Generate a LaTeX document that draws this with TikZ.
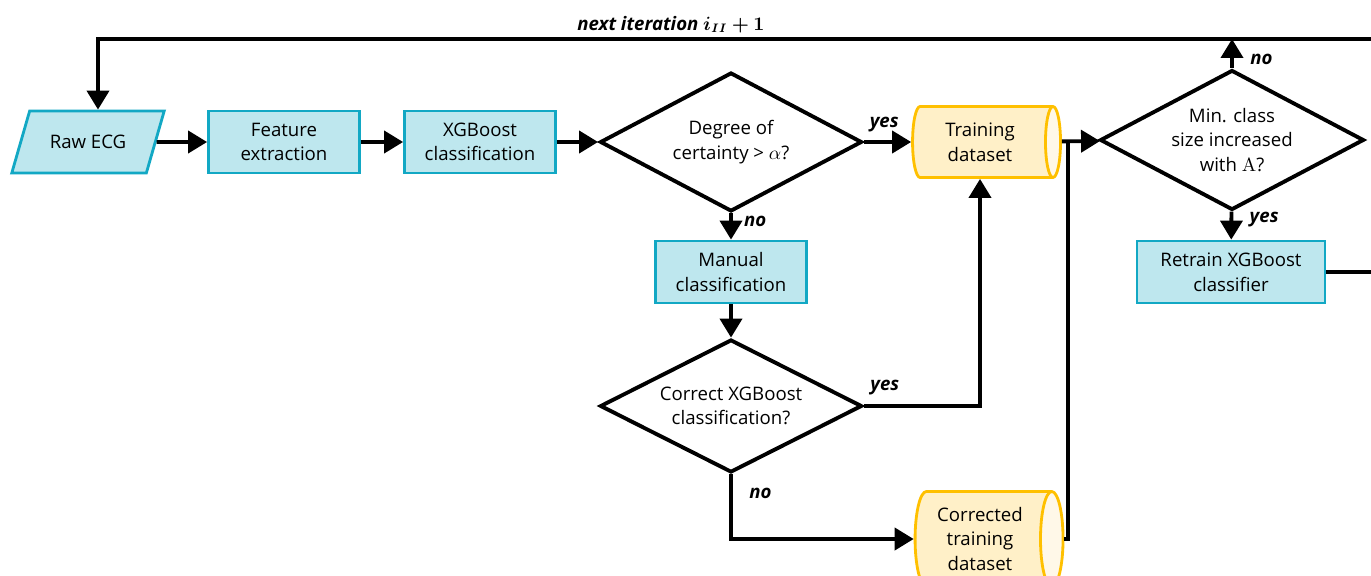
\documentclass[tikz,border=0pt]{standalone}
\usepackage{amsmath}
\usepackage{bm}
\usepackage[no-math]{fontspec}
\setmainfont{Open Sans}
\usetikzlibrary{arrows.meta,positioning,shapes.geometric}
\definecolor{boxfill}{RGB}{190,231,238}
\definecolor{boxline}{RGB}{18,168,196}
\definecolor{dsfill}{RGB}{255,240,200}
\definecolor{dsend}{RGB}{255,248,232}
\definecolor{dsline}{RGB}{255,192,0}

\begin{document}
\begin{tikzpicture}[x=0.02cm,y=-0.02cm,
  every node/.style={font=\fontsize{10.6}{14}\selectfont},
  line/.style={line width=2.2pt},
  conn/.style={line width=2.2pt,-{Triangle[length=0.38cm,width=0.44cm]}},
  box/.style={draw=boxline,fill=boxfill,line width=1.6pt,align=center,
    minimum width=3.02cm,minimum height=1.24cm},
  decision/.style={diamond,draw,line width=2.2pt,align=center,aspect=1.9,
    minimum width=5.24cm,minimum height=2.78cm,inner sep=0pt},
  dataset/.style={cylinder,draw=dsline,line width=1.6pt,align=center,
    cylinder uses custom fill,cylinder body fill=dsfill,cylinder end fill=dsend,
    aspect=0.3,minimum height=2.96cm,minimum width=1.42cm},
  lbl/.style={font=\fontsize{10.6}{14}\selectfont\bfseries\itshape}]
  \useasboundingbox (0,0) rectangle (1371,575);
  \clip (0,0) rectangle (1371,575);

  % main line
  \node[box,trapezium,trapezium left angle=62,trapezium right angle=118,
    trapezium stretches=true,minimum width=3.06cm] (raw) at (88,142) {Raw ECG};
  \node[box] (feat) at (284,142) {Feature\\extraction};
  \node[box] (xgb) at (480,142) {XGBoost\\classification};
  \node[decision] (cert) at (731,142) {Degree of\\certainty > $\alpha$?};
  \node[dataset] (train) at (980,142) {Training\\dataset};
  \node[decision,minimum width=5.28cm,minimum height=2.8cm] (size) at (1232,140)
    {Min. class\\size increased\\with $\mathrm{A}$?};
  \node[box,minimum width=3.76cm] (retrain) at (1231,272) {Retrain XGBoost\\classifier};

  % manual branch
  \node[box] (manual) at (731,272) {Manual\\classification};
  \node[decision,minimum height=2.66cm] (correct) at (731,406)
    {Correct XGBoost\\classification?};
  \node[dataset,minimum width=1.9cm] (corr) at (980,539) {Corrected\\training\\dataset};

  \coordinate (loop) at (1400,39);
  \coordinate (corner) at (98,39);
  \coordinate (out) at (1400,272);
  \coordinate (join) at (1068,142);

  \draw[conn] (raw) -- (feat);
  \draw[conn] (feat) -- (xgb);
  \draw[conn] (xgb) -- (cert);
  \draw[conn] (cert) -- node[lbl,above=1pt,pos=0.43] {yes} (train);
  \draw[conn] (cert) -- node[lbl,right=3pt,pos=0.3] {no} (manual);
  \draw[conn] (manual) -- (correct);
  \draw[conn] (correct.east) -| node[lbl,above=2pt,pos=0.09] {yes} (train.south);
  \draw[conn] (correct.south) |- node[lbl,right=6pt,pos=0.15] {no} (corr.west);
  \draw[conn] (train) -- (size);
  \draw[line] (corr.east) -| (join);
  \draw[conn] (size.north) -- node[lbl,right=6pt,pos=0.3] {no} (size.north |- loop);
  \draw[conn] (size) -- node[lbl,right=6pt,pos=0.3] {yes} (retrain);
  \draw[line] (retrain) -- (out);
  \draw[conn] (loop) -- node[lbl,above=-1pt,pos=0.56] {next iteration $\bm{i_{II}+1}$}
    (corner) -- (corner |- raw.north);
\end{tikzpicture}
\end{document}
